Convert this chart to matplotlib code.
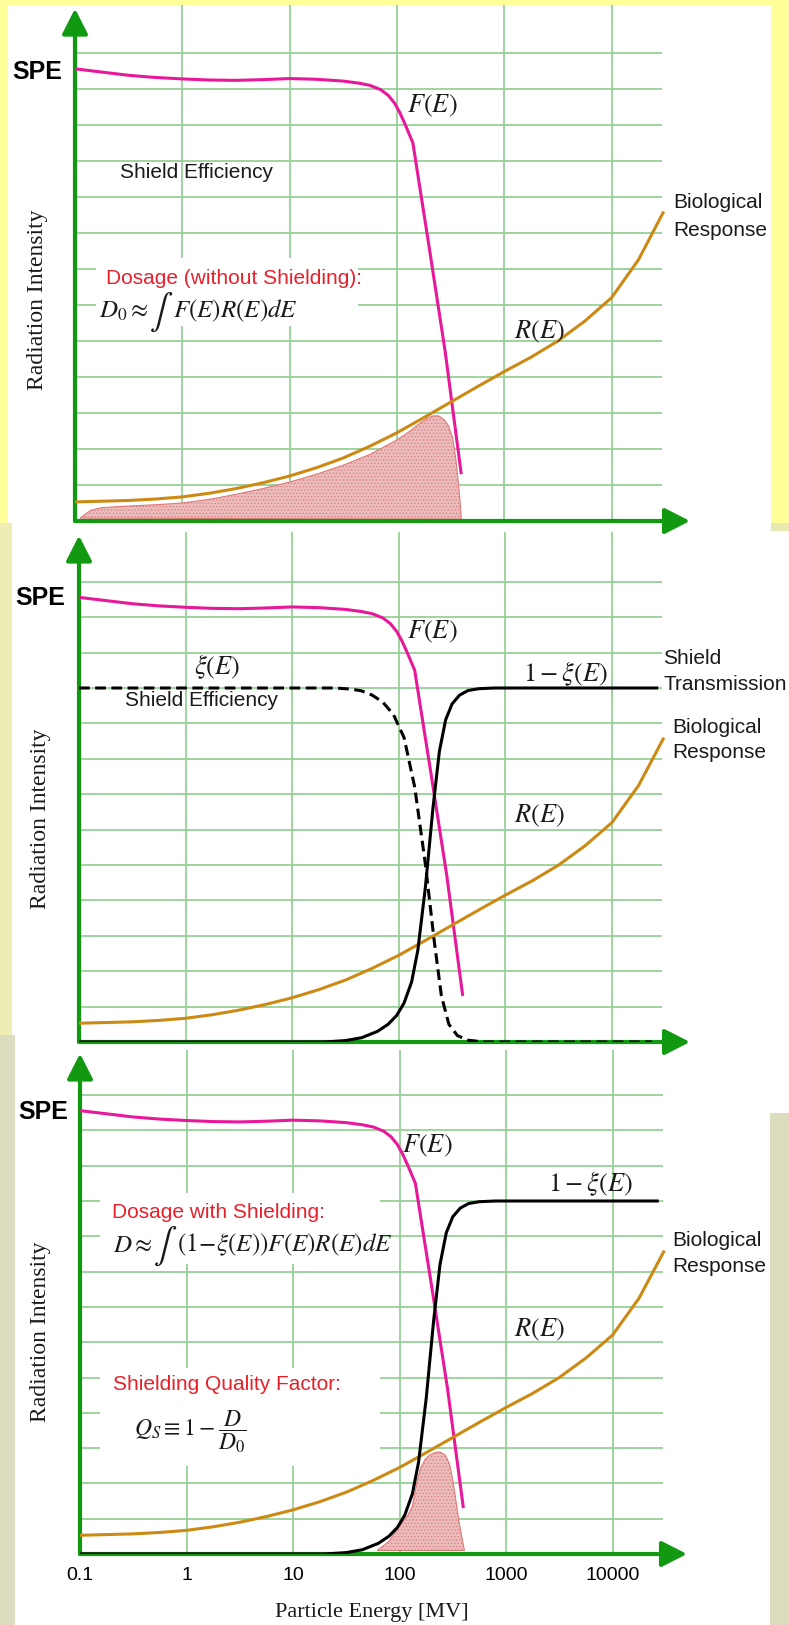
import matplotlib
matplotlib.use('Agg')
import matplotlib.pyplot as plt
from matplotlib.patches import Rectangle

W, H = 789, 1625
plt.rcParams['font.family'] = ['Liberation Sans', 'DejaVu Sans']
plt.rcParams['mathtext.fontset'] = 'stix'
plt.rcParams['hatch.linewidth'] = 0.5

# ---- data (energy in MV, intensity in grid units) ----
E_F = [0.1, 0.178, 0.316, 0.562, 1, 1.78, 3.16, 5.62, 10, 17.8, 31.6, 44.7, 56.2,
       70.8, 83.2, 95.5, 107, 120, 141, 158, 200, 282, 398]
F_E = [12.56, 12.47, 12.38, 12.32, 12.28, 12.25, 12.24, 12.26, 12.29, 12.27, 12.22, 12.16, 12.1,
       11.98, 11.82, 11.6, 11.33, 11.0, 10.5, 9.55, 7.6, 4.7, 1.3]

E_R = [0.1, 0.178, 0.316, 0.562, 1, 1.78, 3.16, 5.62, 10, 17.8, 31.6, 56.2, 100, 178,
       316, 562, 1000, 1778, 3162, 5623, 10000, 17783, 30200]
R_E = [0.53, 0.55, 0.57, 0.61, 0.67, 0.77, 0.9, 1.06, 1.25, 1.48, 1.75, 2.08, 2.45, 2.87,
       3.3, 3.73, 4.15, 4.55, 5.0, 5.55, 6.2, 7.25, 8.56]

E_xi = [0.1, 10, 25.1, 35.5, 44.7, 56.2, 70.8, 89.1, 112, 141, 178, 214, 251, 295, 355, 447, 631, 23700]
xi_E = [10, 10, 10, 9.97, 9.92, 9.8, 9.6, 9.25, 8.6, 7.2, 5.0, 2.9, 1.3, 0.5, 0.18, 0.05, 0, 0]

E_T = [0.1, 20, 31.6, 44.7, 63.1, 79.4, 95.5, 112, 132, 151, 178, 209, 240, 275, 316,
       372, 447, 562, 794, 26300]
T_E = [0, 0, 0.04, 0.12, 0.3, 0.5, 0.75, 1.1, 1.7, 2.6, 4.4, 6.6, 8.2, 9.1, 9.55,
       9.8, 9.93, 9.98, 10.0, 10.0]

# dose integrand without shielding (outline of shaded area)
E_D0 = [0.112, 0.126, 0.141, 0.178, 0.251, 0.398, 0.631, 1, 1.78, 3.16, 5.62, 10, 17.8,
        31.6, 56.2, 100, 126, 158, 191, 219, 245, 275, 302, 331, 355, 372, 389, 398]
D0_E = [0.08, 0.2, 0.3, 0.37, 0.4, 0.43, 0.46, 0.5, 0.6, 0.74, 0.9, 1.08, 1.3,
        1.55, 1.85, 2.25, 2.45, 2.68, 2.85, 2.92, 2.92, 2.82, 2.65, 2.3, 1.7, 1.1, 0.5, 0.05]

# dose integrand with shielding
E_D = [61.7, 79.4, 100, 120, 132, 145, 158, 174, 191, 214, 240, 269, 295, 316, 339, 363, 389, 407]
D_E = [0.1, 0.35, 0.8, 1.1, 1.35, 2.0, 2.44, 2.68, 2.8, 2.87, 2.89, 2.8, 2.55, 2.1, 1.5, 0.9, 0.4, 0.1]

decades = [1, 10, 100, 1000, 10000]
levels = list(range(1, 14))
tick_pos = [0.1, 1, 10, 100, 1000, 10000]
tick_lab = ['0.1', '1', '10', '100', '1000', '10000']

green = '#129912'
gridc = '#96d096'
mag = '#e8189a'
orange = '#cc8a14'
red = '#e8202a'
ink = '#1a1a1a'
pink_face = '#ebbcbc'
pink_edge = '#de7a7a'

fig = plt.figure(figsize=(W / 100, H / 100), dpi=100)
renderer = fig.canvas.get_renderer()


def bg(x0, y0, x1, y1, color):
    fig.add_artist(Rectangle((x0 / W, 1 - y1 / H), (x1 - x0) / W, (y1 - y0) / H,
                             transform=fig.transFigure, fc=color, ec='none', zorder=-10))


def txt(x, y, s, **kw):
    kw.setdefault('va', 'center')
    return fig.text(x / W, 1 - y / H, s, **kw)


def formula(x, y, pieces):
    # place math pieces left to right (lets the integral sign be drawn larger)
    for s, size, dy in pieces:
        t = txt(x, y + dy, s, fontsize=size, color=ink, ha='left')
        x += t.get_window_extent(renderer).width


def mask(ax, x0, y0, x1, y1):
    ax.add_patch(Rectangle((x0 / W, 1 - y1 / H), (x1 - x0) / W, (y1 - y0) / H,
                           transform=fig.transFigure, fc='white', ec='none', zorder=1.5))


# slide backgrounds
bg(0, 0, 789, 523, '#ffff99')
bg(8, 5, 771, 531, 'white')
bg(771, 523, 789, 531, '#e9e9b2')
bg(0, 523, 12, 1035, '#eeeeb4')
bg(0, 1035, 15, 1625, '#dcdcbe')
bg(770, 1113, 789, 1625, '#dcdcbe')

# panel layout in pixels: left, right(arrow tip), axis y, top y, grid spacing, decade width
panels = [(75, 690, 521, 5, 36.0, 107.3),
          (79, 690, 1042, 532, 35.4, 106.6),
          (80, 687, 1554, 1050, 35.3, 106.5)]

axes = []
for left, right, yb, yt, sp, dec in panels:
    ax = fig.add_axes([left / W, 1 - yb / H, (right - left) / W, (yb - yt) / H])
    ax.set_facecolor('none')
    ax.set_xscale('log')
    ytop = (yb - yt) / sp
    xmax = 0.1 * 10 ** ((right - left) / dec)
    ax.set_xlim(0.1, xmax)
    ax.set_ylim(0, ytop)
    for s in ax.spines.values():
        s.set_visible(False)
    ax.set_yticks([])
    ax.xaxis.set_minor_locator(matplotlib.ticker.NullLocator())
    ax.set_xticks([])
    ax.vlines(decades, 0, ytop, color=gridc, lw=1.3, zorder=1)
    ax.hlines(levels, 0.1, 29500, color=gridc, lw=1.3, zorder=1)
    for tip in [(xmax, 0), (0.1, ytop - 0.1)]:
        ax.annotate('', xy=tip, xytext=(0.1, 0),
                    arrowprops=dict(arrowstyle='-|>,head_length=0.55,head_width=0.28',
                                    color=green, lw=3, mutation_scale=28,
                                    shrinkA=0, shrinkB=0), zorder=4)
    ax.plot(E_F, F_E, color=mag, lw=2.2, zorder=5, solid_capstyle='butt')
    ax.plot(E_R, R_E, color=orange, lw=2.2, zorder=5)
    axes.append(ax)

ax1, ax2, ax3 = axes

# panel 1: unshielded dose
ax1.fill(E_D0, D0_E, facecolor=pink_face, edgecolor=pink_edge, hatch='.....', lw=0.8, zorder=3)
mask(ax1, 96, 258, 358, 326)

# panel 2: shield efficiency / transmission
ax2.plot(E_xi, xi_E, color='black', lw=2.2, ls=(0, (3.5, 1.8)), zorder=6)
ax2.plot(E_T, T_E, color='black', lw=2.2, zorder=6)

# panel 3: shielded dose
ax3.plot(E_T, T_E, color='black', lw=2.2, zorder=6)
ax3.fill(E_D, D_E, facecolor=pink_face, edgecolor=pink_edge, hatch='.....', lw=0.8, zorder=3)
mask(ax3, 100, 1193, 380, 1264)
mask(ax3, 100, 1368, 380, 1466)

ax3.set_xticks(tick_pos)
ax3.set_xticklabels(tick_lab, fontsize=14)
ax3.tick_params(axis='x', length=0, pad=9)

# ---- labels ----
sans = dict(fontsize=15, color=ink)
math = dict(fontsize=19, color=ink, ha='center')
serif = dict(fontsize=17, family='Liberation Serif', color=ink)
spe = dict(fontsize=18, fontweight='bold', color='black')

# top
txt(12, 72, 'SPE', **spe)
txt(432, 106, r'$F(E)$', **math)
txt(120, 173, 'Shield Efficiency', **sans)
txt(673, 203, 'Biological', **sans)
txt(673, 230, 'Response', **sans)
txt(106, 278, 'Dosage (without Shielding):', fontsize=15, color=red)
formula(99, 311, [(r'$D_0 \approx$', 18, 0), (r'$\int$', 25, 1), (r'$F(E)R(E)dE$', 18, 0)])
txt(539, 332, r'$R(E)$', **math)
txt(38, 300, 'Radiation Intensity', rotation=90, ha='center', **serif)

# middle
txt(15, 598, 'SPE', **spe)
txt(432, 632, r'$F(E)$', **math)
txt(217, 667, r'$\xi(E)$', **math)
txt(125, 701, 'Shield Efficiency', **sans)
txt(566, 674, r'$1-\xi(E)$', **math)
txt(663, 659, 'Shield', **sans)
txt(663, 685, 'Transmission', **sans)
txt(672, 728, 'Biological', **sans)
txt(672, 753, 'Response', **sans)
txt(539, 816, r'$R(E)$', **math)
txt(41, 819, 'Radiation Intensity', rotation=90, ha='center', **serif)

# bottom
txt(18, 1112, 'SPE', **spe)
txt(427, 1146, r'$F(E)$', **math)
txt(591, 1184, r'$1-\xi(E)$', **math)
txt(112, 1213, 'Dosage with Shielding:', fontsize=15, color=red)
formula(113, 1245, [(r'$D \approx$', 18, 0), (r'$\int$', 25, 1),
                    (r'$(1\!-\!\xi(E))F(E)R(E)dE$', 18, 0)])
txt(672, 1241, 'Biological', **sans)
txt(672, 1267, 'Response', **sans)
txt(539, 1330, r'$R(E)$', **math)
txt(113, 1384, 'Shielding Quality Factor:', fontsize=15, color=red)
txt(134, 1432, r'$Q_S \equiv 1-\dfrac{D}{D_0}$', fontsize=17, color=ink)
txt(41, 1332, 'Radiation Intensity', rotation=90, ha='center', **serif)
txt(372, 1613, 'Particle Energy [MV]', ha='center', fontsize=16,
    family='Liberation Serif', color=ink)

fig.savefig('out.png', dpi=100)
